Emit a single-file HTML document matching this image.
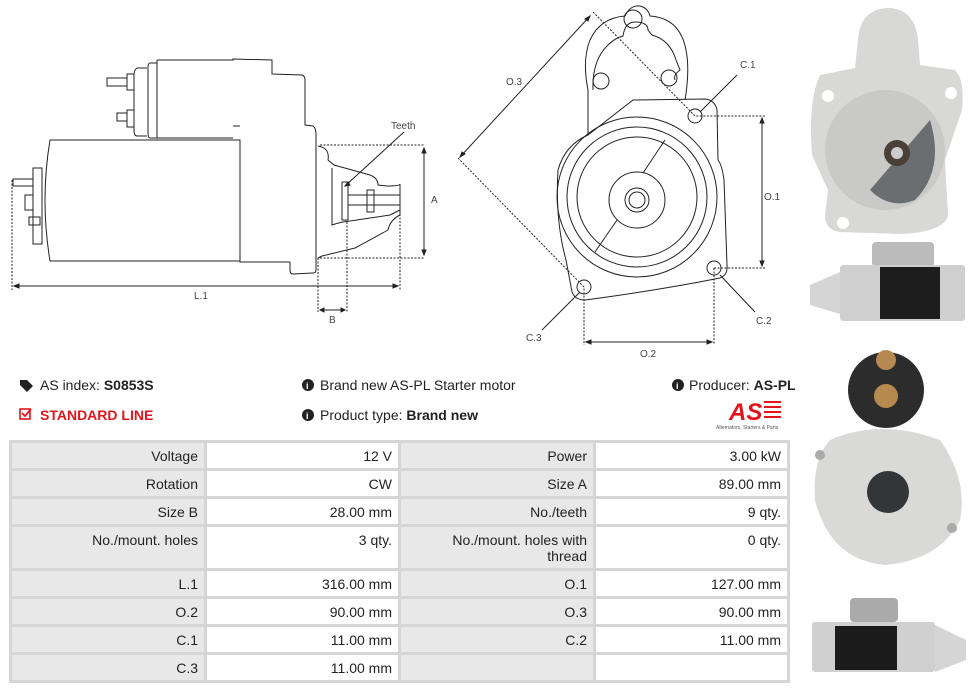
<!DOCTYPE html>
<html><head><meta charset="utf-8"><style>
body{margin:0;width:976px;height:692px;background:#fff;font-family:"Liberation Sans",sans-serif;position:relative;overflow:hidden}
.t{position:absolute;font-size:14px;color:#222;white-space:nowrap}
table{position:absolute;left:9px;top:440px;border-collapse:collapse;font-size:14px;color:#222}
td{border:3px solid #d6d6d6;text-align:right;padding:5px 6px 0 6px;vertical-align:top;height:28px;box-sizing:border-box}
td.l{background:#e8e8e8;width:195px}
td.v{background:#fff;width:194px}
</style></head><body>
<svg width="976" height="692" style="position:absolute;left:0;top:0" font-family="Liberation Sans" font-size="10" fill="none" stroke="#222" stroke-width="1">
<!-- side view -->
<path d="M157 60 L233 60 L233 59 L272 60 L272 74 L302 75 Q305 76 305 80 L305 125 L313 126 Q316 128 316 135 L316 270 Q316 273 313 273 L293 274 Q290 274 290 270 L290 262 L240 262 L240 140 L50 140 Q40 200 50 261 L240 261"/>
<path d="M150 63 Q148 63 148 68 L148 133 Q148 138 150 138 L233 138 M157 60 L157 138 M150 63 L157 63 M150 138 L157 138 M147 68 L137 68 Q134 70 134 75 L134 130 Q134 136 137 136 L147 136"/>
<path d="M240 126 L233 126 M107 78 L127 78 L127 86 L107 86 Z M127 74 L134 74 L134 90 L127 90 Z M117 113 L127 113 L127 121 L117 121 Z M127 110 L134 110 L134 127 L127 127 Z"/>
<path d="M13 179 L33 179 L33 186 L13 186 Z M33 168 L42 168 L42 244 L33 244 Z M25 195 L33 195 L33 210 L25 210 Z M29 217 L40 217 L40 225 L29 225 Z"/>
<path d="M318 146 Q330 148 328 160 L334 165 L370 175 Q378 178 378 185 L387 186 Q400 186 400 184 L400 215 Q390 220 388 230 Q370 240 355 248 L322 256 L318 258"/>
<path d="M332 168 L332 225 Q340 222 350 221 L390 215 L400 210 M342 182 L348 182 L348 220 L342 220 Z M348 195 L400 195 L400 205 L348 205 M367 190 L374 190 L374 212 L367 212 Z"/>
<g stroke-dasharray="2,1.5">
<path d="M320 145 L425 145 M320 258 L425 258 M12 180 L12 290 M400 186 L400 290 M318 258 L318 312 M347 222 L347 312"/>
</g>
<path d="M424 148 L424 255 M14 286 L398 286 M320 310 L345 310"/>
<path d="M424 148 l-2 5 l4 0z M424 255 l-2 -5 l4 0z M14 286 l5 -2 l0 4z M398 286 l-5 -2 l0 4z M320 310 l4 -2 l0 4z M345 310 l-4 -2 l0 4z" fill="#222"/>
<path d="M404 132 L345 186"/><path d="M345 186 l5 -1 l-2 -3z" fill="#222"/>
<g fill="#444" stroke="none" font-size="10">
<text x="391" y="129">Teeth</text><text x="431" y="203">A</text><text x="194" y="299">L.1</text><text x="329" y="323">B</text>
</g>
<!-- front view -->
<path d="M588 135 L588 90 Q582 60 590 40 Q600 18 625 16 Q630 5 640 6 Q648 8 650 16 Q680 18 686 50 Q690 70 685 100"/>
<path d="M593 90 Q592 60 608 45 Q615 38 623 36 Q625 22 635 22 Q648 22 648 30 L652 35 Q670 40 676 60 L680 70 Q673 75 675 80"/>
<circle cx="633" cy="19" r="9"/><circle cx="601" cy="81" r="8"/><circle cx="669" cy="78" r="8"/>
<path d="M588 135 L633 100 L705 99 Q715 100 717 110 L718 160 Q722 165 724 180 L727 265 Q728 275 720 278 Q660 290 585 300 Q575 300 572 292 L566 260 Q555 220 558 170 Q565 145 588 135Z"/>
<circle cx="637" cy="197" r="80"/><circle cx="637" cy="197" r="70"/><circle cx="637" cy="197" r="60"/>
<circle cx="637" cy="200" r="28"/><circle cx="637" cy="200" r="12"/><circle cx="637" cy="200" r="8"/>
<path d="M665 140 L643 173 M617 220 L595 252"/>
<circle cx="695" cy="116" r="7"/><circle cx="714" cy="268" r="7"/><circle cx="584" cy="287" r="7"/>
<g stroke-dasharray="2,1.5">
<path d="M593 12 L695 116 L765 116 M458 158 L584 287 L584 345 M714 268 L765 268 M714 268 L714 345"/>
</g>
<path d="M762 118 L762 266 M586 342 L712 342 M590 16 L460 157"/>
<path d="M762 118 l-2 5 l4 0z M762 266 l-2 -5 l4 0z M586 342 l5 -2 l0 4z M712 342 l-5 -2 l0 4z M590 16 l-2 5 l-3 -2z M460 157 l2 -5 l3 2z" fill="#222"/>
<path d="M737 75 L700 112 M720 275 L755 312 M542 330 L580 292"/>
<g fill="#444" stroke="none" font-size="10">
<text x="506" y="85">O.3</text><text x="740" y="68">C.1</text><text x="764" y="200">O.1</text><text x="756" y="324">C.2</text><text x="526" y="341">C.3</text><text x="640" y="357">O.2</text>
</g>
<!-- photos -->
<g stroke="none">
<path d="M858 40 Q860 8 890 8 Q915 10 918 40 L920 65 L955 70 Q965 80 962 110 L945 160 L948 215 Q945 232 900 234 L840 232 Q825 230 825 215 L828 190 L812 155 Q808 100 820 75 L855 68Z" fill="#d8d8d6"/>
<circle cx="885" cy="150" r="60" fill="#c9c9c7"/>
<path d="M930 120 Q945 170 915 200 Q890 210 870 190Z" fill="#6b6e70"/>
<circle cx="897" cy="153" r="13" fill="#4a4038"/><circle cx="897" cy="153" r="6" fill="#ccc"/>
<circle cx="828" cy="96" r="6" fill="#fff"/><circle cx="951" cy="93" r="6" fill="#fff"/><circle cx="843" cy="223" r="6" fill="#fff"/>
<rect x="872" y="242" width="62" height="25" rx="4" fill="#bbb"/>
<rect x="840" y="265" width="125" height="56" rx="3" fill="#cfcfcf"/>
<rect x="880" y="267" width="60" height="52" fill="#1d1d1d"/>
<path d="M810 285 L840 272 L840 314 L810 305Z" fill="#d5d5d5"/>
<circle cx="886" cy="390" r="38" fill="#2c2c2c"/>
<circle cx="886" cy="360" r="10" fill="#b58950"/><circle cx="886" cy="396" r="12" fill="#b58950"/>
<path d="M830 440 Q880 418 940 440 Q968 480 960 520 Q940 560 885 565 Q830 560 815 500 Q812 460 830 440Z" fill="#d9d9d8"/>
<circle cx="888" cy="492" r="21" fill="#333638"/>
<circle cx="820" cy="455" r="5" fill="#aaa"/><circle cx="952" cy="528" r="5" fill="#aaa"/>
<rect x="850" y="598" width="48" height="24" rx="4" fill="#aaa"/>
<rect x="812" y="622" width="123" height="50" rx="3" fill="#d0d0d0"/>
<rect x="835" y="626" width="62" height="44" fill="#1c1c1c"/>
<path d="M935 625 L966 640 L966 660 L935 672Z" fill="#d5d5d5"/>
</g>
<!-- AS logo -->
<text x="729" y="420" font-size="24" font-weight="bold" font-style="italic" fill="#e1161d" stroke="none">AS</text>
<g fill="#e1161d" stroke="none"><rect x="764" y="401" width="17" height="2"/><rect x="764" y="406" width="17" height="2"/><rect x="764" y="411" width="17" height="2"/><rect x="764" y="416" width="17" height="2"/></g>
<text x="716" y="429" font-size="5" fill="#555" stroke="none">Alternators, Starters &amp; Parts</text>
<!-- icons -->
<path d="M20 380 L27 380 L33 386 L27 392 L20 385Z" fill="#222" stroke="none"/>
<rect x="20" y="409" width="10" height="10" stroke="#e1161d" stroke-width="1.6"/>
<path d="M22 413 L25 416 L31 409" stroke="#e1161d" stroke-width="1.8"/>
<circle cx="308" cy="385" r="6" fill="#222" stroke="none"/><circle cx="308" cy="415" r="6" fill="#222" stroke="none"/><circle cx="678" cy="385" r="6" fill="#222" stroke="none"/>
<g fill="#fff" stroke="none" font-size="9" font-weight="bold"><text x="306" y="389">i</text><text x="306" y="419">i</text><text x="676" y="389">i</text></g>
</svg>
<div class="t" style="left:40px;top:377px">AS index: <b>S0853S</b></div>
<div class="t" style="left:40px;top:407px;color:#e1161d;font-weight:bold">STANDARD LINE</div>
<div class="t" style="left:320px;top:377px">Brand new AS-PL Starter motor</div>
<div class="t" style="left:320px;top:407px">Product type: <b>Brand new</b></div>
<div class="t" style="left:689px;top:377px">Producer: <b>AS-PL</b></div>
<table>
<tr><td class="l">Voltage</td><td class="v">12 V</td><td class="l">Power</td><td class="v">3.00 kW</td></tr>
<tr><td class="l">Rotation</td><td class="v">CW</td><td class="l">Size A</td><td class="v">89.00 mm</td></tr>
<tr><td class="l">Size B</td><td class="v">28.00 mm</td><td class="l">No./teeth</td><td class="v">9 qty.</td></tr>
<tr><td class="l" style="height:44px">No./mount. holes</td><td class="v" style="height:44px">3 qty.</td><td class="l" style="line-height:16px;height:44px">No./mount. holes with<br>thread</td><td class="v" style="height:44px">0 qty.</td></tr>
<tr><td class="l">L.1</td><td class="v">316.00 mm</td><td class="l">O.1</td><td class="v">127.00 mm</td></tr>
<tr><td class="l">O.2</td><td class="v">90.00 mm</td><td class="l">O.3</td><td class="v">90.00 mm</td></tr>
<tr><td class="l">C.1</td><td class="v">11.00 mm</td><td class="l">C.2</td><td class="v">11.00 mm</td></tr>
<tr><td class="l">C.3</td><td class="v">11.00 mm</td><td class="l"></td><td class="v"></td></tr>
</table>
</body></html>
